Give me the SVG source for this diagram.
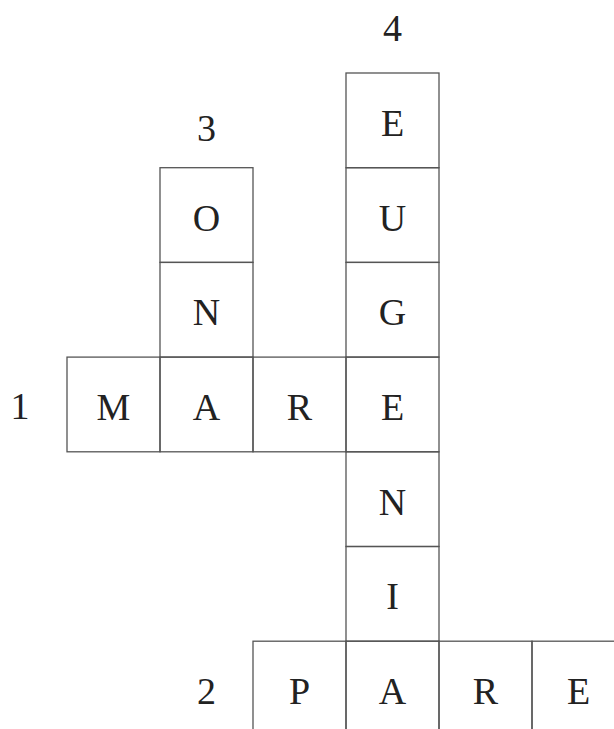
<svg xmlns="http://www.w3.org/2000/svg" width="614" height="729" viewBox="0 0 614 729">
<style>
.c{fill:none;stroke:#555;stroke-width:1.3}
.t{font-family:"Liberation Serif","DejaVu Serif",serif;font-size:38px;fill:#222;text-anchor:middle}
</style>
<rect width="614" height="729" fill="#fff"/>
<defs><rect id="cell" width="93" height="94.7" class="c"/></defs>
<g id="labels">
<text class="t" x="392.5" y="41">4</text>
<text class="t" x="206.5" y="141">3</text>
<text class="t" x="20" y="419">1</text>
<text class="t" x="206.5" y="704">2</text>
</g>
<g id="word4">
<g id="c4-1"><use href="#cell" x="346" y="73"/><text class="t" x="392.5" y="136">E</text></g>
<g id="c4-2"><use href="#cell" x="346" y="167.7"/><text class="t" x="392.5" y="230.5">U</text></g>
<g id="c4-3"><use href="#cell" x="346" y="262.4"/><text class="t" x="392.5" y="325">G</text></g>
<g id="c4-4"><use href="#cell" x="346" y="357.1"/><text class="t" x="392.5" y="420">E</text></g>
<g id="c4-5"><use href="#cell" x="346" y="451.8"/><text class="t" x="392.5" y="514.5">N</text></g>
<g id="c4-6"><use href="#cell" x="346" y="546.5"/><text class="t" x="392.5" y="608.5">I</text></g>
<g id="c4-7"><use href="#cell" x="346" y="641.2"/><text class="t" x="392.5" y="704">A</text></g>
</g>
<g id="word3">
<g id="c3-1"><use href="#cell" x="160" y="167.7"/><text class="t" x="206.5" y="230.5">O</text></g>
<g id="c3-2"><use href="#cell" x="160" y="262.4"/><text class="t" x="206.5" y="325">N</text></g>
<g id="c3-3"><use href="#cell" x="160" y="357.1"/><text class="t" x="206.5" y="420">A</text></g>
</g>
<g id="word1">
<g id="c1-1"><use href="#cell" x="67" y="357.1"/><text class="t" x="113.5" y="420">M</text></g>
<g id="c1-3"><use href="#cell" x="253" y="357.1"/><text class="t" x="299.5" y="420">R</text></g>
</g>
<g id="word2">
<g id="c2-1"><use href="#cell" x="253" y="641.2"/><text class="t" x="299.5" y="704">P</text></g>
<g id="c2-3"><use href="#cell" x="439" y="641.2"/><text class="t" x="485.5" y="704">R</text></g>
<g id="c2-4"><use href="#cell" x="532" y="641.2"/><text class="t" x="578.5" y="704">E</text></g>
</g>
</svg>
